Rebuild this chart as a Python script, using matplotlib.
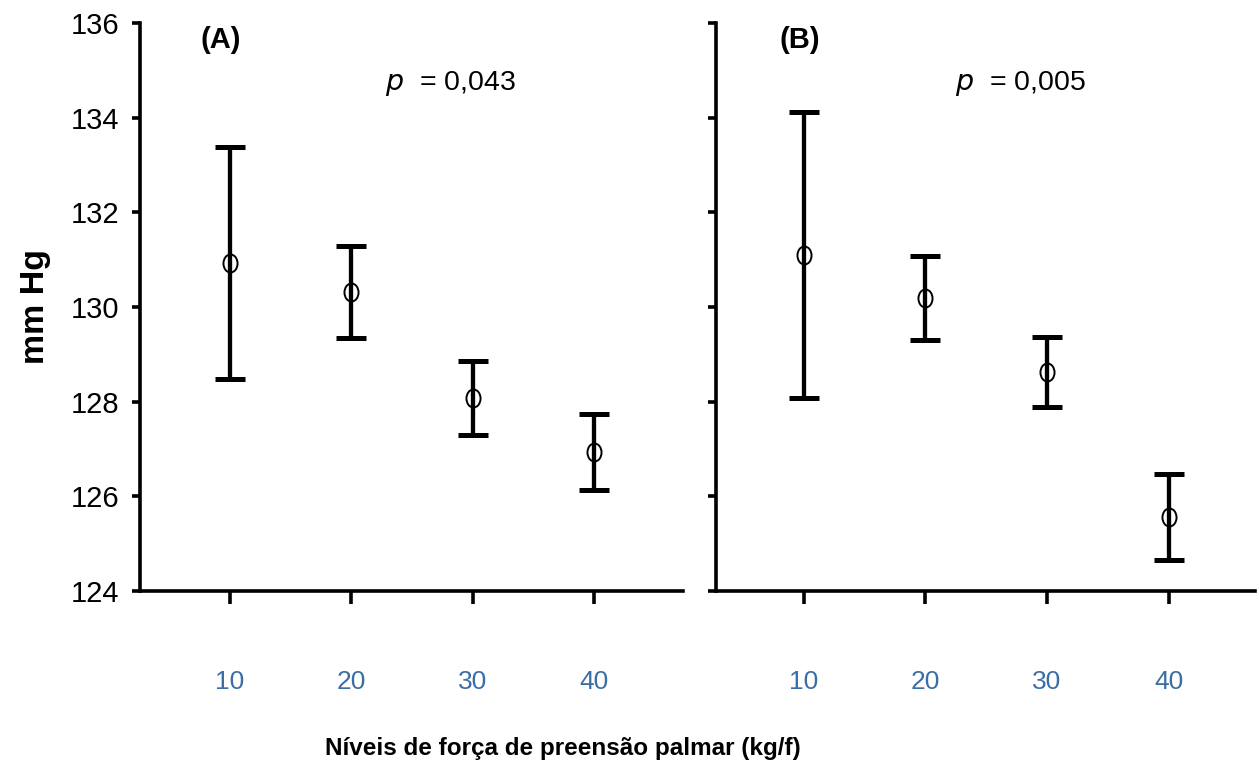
import numpy as np
import matplotlib.pyplot as plt
from matplotlib.path import Path
from matplotlib.transforms import Affine2D

plt.rcParams['font.family'] = ['Liberation Sans', 'DejaVu Sans']

niveis = [10, 20, 30, 40]

# painel A
media_a = [130.93, 130.31, 128.08, 126.94]
erro_a = [2.45, 0.97, 0.78, 0.80]
# painel B
media_b = [131.10, 130.19, 128.63, 125.56]
erro_b = [3.02, 0.89, 0.74, 0.91]

p_a = "0,043"
p_b = "0,005"

azul = '#3b6ea5'

# marcador eliptico (mais alto do que largo)
elipse = Path.unit_circle().transformed(Affine2D().scale(0.78, 1.0))

fig = plt.figure(figsize=(12.59, 7.65), dpi=100)
ax1 = fig.add_axes([0.1112, 0.2275, 0.4313, 0.7425])
ax2 = fig.add_axes([0.5687, 0.2275, 0.4281, 0.7425])


def painel(ax, media, erro, letra, pval, xlim, mostra_y, xl, xp):
    ax.errorbar(niveis, media, yerr=erro, fmt='none', ecolor='black',
                elinewidth=3.1, capsize=11, capthick=3.6, zorder=2)
    ax.plot(niveis, media, linestyle='none', marker=elipse, markersize=13,
            markerfacecolor='none', markeredgecolor='black',
            markeredgewidth=1.4, zorder=3)
    ax.set_xlim(xlim)
    ax.set_ylim(124, 136)
    ax.set_yticks([124, 126, 128, 130, 132, 134, 136])
    ax.set_xticks(niveis)
    for s in ['top', 'right']:
        ax.spines[s].set_visible(False)
    for s in ['left', 'bottom']:
        ax.spines[s].set_linewidth(2.6)
    ax.tick_params(axis='y', direction='out', length=6, width=2.6,
                   labelsize=21, pad=9)
    ax.tick_params(axis='x', direction='out', length=9, width=2.6,
                   labelsize=19, labelcolor=azul, pad=48)
    if not mostra_y:
        ax.set_yticklabels([])
    ax.text(xl, 0.97, letra, transform=ax.transAxes, fontsize=21,
            fontweight='bold', ha='center', va='center')
    ax.text(xp, 0.893, r'$\it{p}$' + '  = ' + pval, transform=ax.transAxes,
            fontsize=20.5, ha='left', va='center')


painel(ax1, media_a, erro_a, '(A)', p_a, (2.6, 47.3), True, 0.148, 0.451)
painel(ax2, media_b, erro_b, '(B)', p_b, (2.8, 47.1), False, 0.156, 0.443)

ax1.set_ylabel('mm Hg', fontsize=24.5, fontweight='bold', labelpad=14)
fig.text(0.447, 0.022, 'Níveis de força de preensão palmar (kg/f)',
         fontsize=17.5, fontweight='bold', ha='center', va='center')

fig.savefig('out.png', dpi=100)
